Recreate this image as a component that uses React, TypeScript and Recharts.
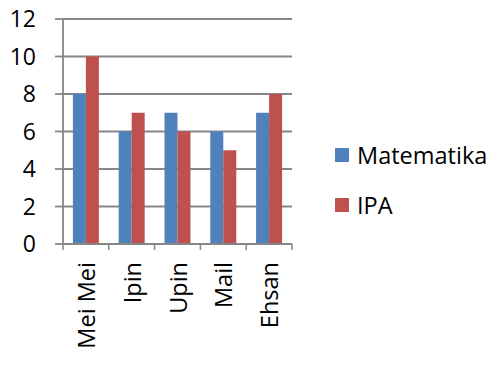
import { Bar, BarChart, CartesianGrid, Legend, XAxis, YAxis } from "recharts";

const students = ["Mei Mei", "Ipin", "Upin", "Mail", "Ehsan"];
const matematika = [8, 6, 7, 6, 7];
const ipa = [10, 7, 6, 5, 8];
const yTicks = [0, 2, 4, 6, 8, 10, 12];

const seriesInfo = [
  { key: "matematika", name: "Matematika", color: "#4F81BD" },
  { key: "ipa", name: "IPA", color: "#C0504D" },
];

const data = students.map((name, i) => ({
  name,
  matematika: matematika[i],
  ipa: ipa[i],
}));

const W = 492;
const H = 366;
const margin = { top: 19, right: 200, bottom: 0, left: 0 };
const yAxisWidth = 63;
const xAxisHeight = 122;
const FONT = "'Open Sans', sans-serif";
const AXIS_GREY = "#868686";

const bandWidth = (W - margin.left - margin.right - yAxisWidth) / students.length;

function CategoryTick(props: any) {
  const { x, y, payload, index } = props;
  const left = x - bandWidth / 2;
  const right = x + bandWidth / 2;
  return (
    <g>
      <line x1={left} y1={y} x2={left} y2={y + 6} stroke={AXIS_GREY} strokeWidth={1.5} />
      {index === students.length - 1 && (
        <line x1={right} y1={y} x2={right} y2={y + 6} stroke={AXIS_GREY} strokeWidth={1.5} />
      )}
      <text
        transform={`translate(${x},${y + 18}) rotate(-90)`}
        textAnchor='end'
        dominantBaseline='central'
        fontSize={23.5}
        fontFamily={FONT}
        fill='#000'>
        {payload.value}
      </text>
    </g>
  );
}

function LegendBox() {
  return (
    <div style={{ display: "flex", flexDirection: "column", gap: 20 }}>
      {seriesInfo.map((s) => (
        <div
          key={s.key}
          style={{ display: "flex", alignItems: "center", height: 30, fontFamily: FONT, fontSize: 23.5, color: "#000" }}>
          <span style={{ width: 14, height: 14, background: s.color, marginRight: 8, display: "inline-block" }} />
          {s.name}
        </div>
      ))}
    </div>
  );
}

export default function App() {
  return (
    <div style={{ position: "absolute", left: 0, top: 0, width: W, height: H, background: "#fff" }}>
      <BarChart width={W} height={H} data={data} margin={margin} barGap={0} barCategoryGap='21.6%'>
        <CartesianGrid horizontal={true} vertical={false} stroke={AXIS_GREY} strokeWidth={1.8} />
        <XAxis
          dataKey='name'
          height={xAxisHeight}
          interval={0}
          tickLine={false}
          tickSize={0}
          tickMargin={0}
          axisLine={{ stroke: AXIS_GREY, strokeWidth: 1.8 }}
          tick={<CategoryTick />}
        />
        <YAxis
          width={yAxisWidth}
          domain={[0, 12]}
          ticks={yTicks}
          interval={0}
          tickSize={8}
          tickMargin={19}
          tickLine={{ stroke: AXIS_GREY, strokeWidth: 1.8 }}
          axisLine={{ stroke: AXIS_GREY, strokeWidth: 1.8 }}
          tick={{ fill: "#000", fontSize: 23, fontFamily: FONT }}
        />
        <Legend
          layout='vertical'
          align='center'
          verticalAlign='middle'
          content={<LegendBox />}
          wrapperStyle={{ left: 335, top: 140, width: 157 }}
        />
        {seriesInfo.map((s) => (
          <Bar key={s.key} dataKey={s.key} name={s.name} fill={s.color} isAnimationActive={false} />
        ))}
      </BarChart>
    </div>
  );
}
